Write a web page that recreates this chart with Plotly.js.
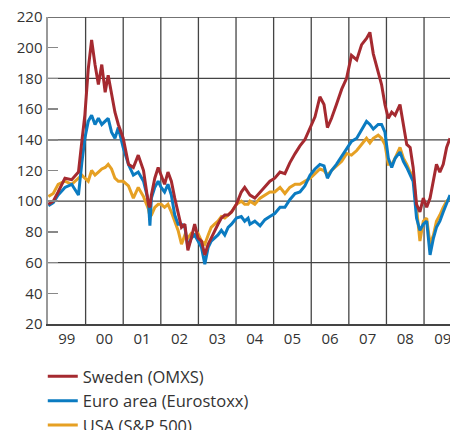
<!DOCTYPE html>
<html>
<head>
<meta charset="utf-8">
<script src="https://cdn.plot.ly/plotly-3.0.1.min.js"></script>
<style>html,body{margin:0;padding:0;background:#fff;}#chart{width:450px;height:430px;}</style>
</head>
<body>
<div id="chart"></div>
<script>
// Dates as decimal years
const dates = [
  1999.01,1999.14,1999.27,1999.45,1999.63,1999.81,1999.90,1999.98,2000.07,2000.16,
  2000.25,2000.34,2000.43,2000.52,2000.60,2000.69,2000.78,2000.87,2001.00,2001.14,
  2001.27,2001.40,2001.54,2001.67,2001.71,
  2001.75,2001.84,2001.93,2002.01,2002.10,2002.19,2002.28,2002.37,2002.46,2002.55,
  2002.64,2002.72,2002.81,2002.90,2002.99,2003.08,2003.17,2003.26,2003.34,2003.43,
  2003.52,2003.61,2003.70,2003.79,2003.88,2004.01,2004.14,2004.23,2004.32,
  2004.37,2004.50,2004.64,2004.77,2004.90,2005.03,2005.17,2005.30,2005.43,2005.57,
  2005.70,2005.83,2005.97,2006.10,2006.23,2006.34,2006.43,2006.54,2006.67,2006.81,
  2006.94,2007.07,
  2007.21,2007.34,2007.47,2007.56,2007.65,2007.78,2007.87,2007.96,2008.05,2008.14,
  2008.23,2008.36,2008.45,2008.54,2008.63,2008.71,2008.80,2008.89,2008.98,2009.07,
  2009.16,2009.25,2009.33,2009.42,2009.51,2009.60,2009.69
];
const sweden = [
  98,100,106,115,114,119,139,156,186,205,
  189,176,189,171,182,171,158,150,141,124,
  122,130,120,98,96,
  104,115,122,117,111,119,113,102,93,83,
  85,68,76,85,76,74,65,72,76,81,
  85,89,91,91,93,98,106,109,106,
  104,102,106,109,113,115,119,118,125,131,
  136,140,148,155,168,163,148,154,163,173,
  180,195,
  192,202,206,210,196,184,176,163,154,158,
  156,163,150,137,135,122,98,93,102,96,
  102,115,124,119,124,135,141
];
const euroArea = [
  97,99,104,109,111,104,125,141,152,156,
  150,154,150,152,154,145,141,148,135,124,
  117,119,113,100,84,
  102,109,113,109,106,111,104,91,85,85,
  83,70,76,78,74,70,59,70,74,76,
  78,81,78,83,85,89,90,87,89,
  85,87,84,88,90,92,96,96,101,105,
  106,110,117,121,124,123,115,120,124,129,
  134,139,
  141,147,152,150,147,150,150,145,128,122,
  128,132,126,122,117,113,89,81,85,87,
  65,76,83,87,93,98,104
];
const usa = [
  103,105,111,113,111,115,117,115,113,120,
  117,119,121,122,124,121,115,113,113,110,
  102,109,103,95,90,
  91,96,98,98,96,98,93,87,81,72,
  78,76,79,78,79,74,72,78,83,85,
  87,90,89,91,93,98,100,98,98,
  100,98,102,104,106,106,109,105,109,111,
  111,113,115,118,121,120,117,120,123,126,
  131,130,
  133,137,141,138,141,143,141,137,124,124,
  128,135,128,124,119,117,93,74,87,89,
  72,78,87,91,96,100,102
];
const years = [1999,2000,2001,2002,2003,2004,2005,2006,2007,2008,2009];
const yearLabels = ['99','00','01','02','03','04','05','06','07','08','09'];
const yTicks = [20,40,60,80,100,120,140,160,180,200,220];
const seriesNames = ['Sweden (OMXS)','Euro area (Eurostoxx)','USA (S&P 500)'];

const font = "'Open Sans', 'Liberation Sans', sans-serif";
const traces = [
  {x: dates, y: usa, name: seriesNames[2], type: 'scatter', mode: 'lines',
   line: {color: '#e6a023', width: 3}},
  {x: dates, y: euroArea, name: seriesNames[1], type: 'scatter', mode: 'lines',
   line: {color: '#0b7bc1', width: 3}},
  {x: dates, y: sweden, name: seriesNames[0], type: 'scatter', mode: 'lines',
   line: {color: '#a52a30', width: 3}}
];
const xr = [years[0], 2009.69];
const yr = [yTicks[0], yTicks[yTicks.length - 1]];
const gridStyle = {color: '#444', width: 1.3};
const shapes = [];
years.slice(1).forEach(v => shapes.push({type: 'line', xref: 'x', yref: 'y',
  x0: v, x1: v, y0: yr[0], y1: yr[1], line: gridStyle, layer: 'below'}));
yTicks.filter((v, i) => i % 2 === 0 && i > 0).forEach(v => shapes.push({type: 'line',
  xref: 'x', yref: 'y', x0: xr[0], x1: xr[1], y0: v, y1: v, line: gridStyle, layer: 'below'}));

const layout = {
  width: 450, height: 430,
  margin: {l: 48, r: 0, t: 17, b: 106, autoexpand: false},
  paper_bgcolor: '#fff', plot_bgcolor: 'rgba(0,0,0,0)',
  font: {family: font, size: 15, color: '#333'},
  showlegend: true,
  legend: {x: -0.013, y: -0.114, xanchor: 'left', yanchor: 'top',
           traceorder: 'reversed', font: {size: 16.5, color: '#333'},
           bgcolor: 'rgba(0,0,0,0)'},
  shapes: shapes,
  xaxis: {range: xr, tickvals: years.map(y => y + 0.5), ticktext: yearLabels,
          showgrid: false, zeroline: false, ticks: '', showline: true,
          linecolor: '#444', linewidth: 1.5, tickfont: {size: 15, color: '#333'},
          ticklabeloverflow: 'allow'},
  yaxis: {range: yr, tickvals: yTicks, showgrid: false, zeroline: false,
          ticks: 'inside', ticklen: 10, tickcolor: '#888', tickwidth: 1.5,
          showline: true, linecolor: '#999', linewidth: 2.5,
          tickfont: {size: 15, color: '#333'}}
};
Plotly.newPlot('chart', traces, layout, {staticPlot: true, displayModeBar: false});
</script>
</body>
</html>
